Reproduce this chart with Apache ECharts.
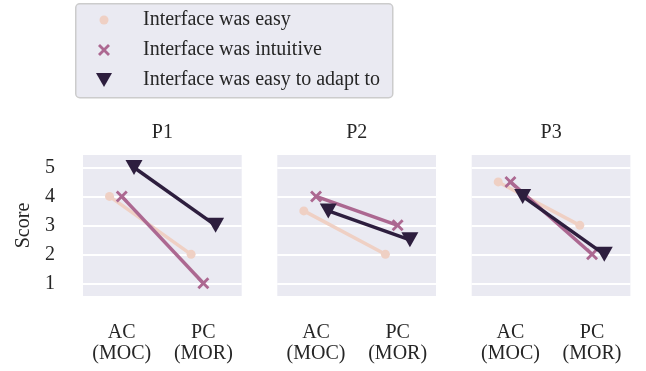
<!DOCTYPE html>
<html>
<head>
<meta charset="utf-8">
<script src="https://cdn.jsdelivr.net/npm/echarts@6/dist/echarts.min.js"></script>
<style>html,body{margin:0;padding:0;background:#fff}#c{width:646px;height:371px}</style>
</head>
<body>
<div id="c"></div>
<script>
// ---- data ----
var panels = ['P1', 'P2', 'P3'];
var categories = ['AC\n(MOC)', 'PC\n(MOR)'];
var seriesNames = ['Interface was easy', 'Interface was intuitive', 'Interface was easy to adapt to'];
var easyValues = [[4, 2], [3.5, 2], [4.5, 3]];
var intuitiveValues = [[4, 1], [4, 3], [4.5, 2]];
var adaptValues = [[5, 3], [3.5, 2.5], [4, 2]];
var yTicks = [1, 2, 3, 4, 5];

// ---- styling ----
var colors = ['#efd0c4', '#ac6891', '#2d1e3e'];
var FONT = '"Liberation Serif", "Times New Roman", serif';
var TXT = '#262626';
var DODGE = 0.15;
var crossPath = 'path://M0,2L2,0L6,4L10,0L12,2L8,6L12,10L10,12L6,8L2,12L0,10L4,6Z';
var triPath = 'path://M0,0L17,0L8.5,15Z';
var symbols = ['circle', crossPath, triPath];
var symbolSizes = [9, 12, [17, 15]];
var allValues = [easyValues, intuitiveValues, adaptValues];

var gridLefts = [83, 277.3, 471.7];
var gridW = 158.7;
var gridTop = 155, gridH = 141;

var grids = [], xAxes = [], yAxes = [], titles = [], series = [];
panels.forEach(function (p, i) {
  grids.push({left: gridLefts[i], top: gridTop, width: gridW, height: gridH,
    show: true, backgroundColor: '#eaeaf2', borderWidth: 0, containLabel: false});
  xAxes.push({type: 'value', gridIndex: i, min: -0.475, max: 1.47,
    axisLine: {show: false}, axisTick: {show: false}, splitLine: {show: false},
    axisLabel: {customValues: [0, 1], margin: 26, fontFamily: FONT, fontSize: 20, lineHeight: 21, color: TXT,
      formatter: function (v) { return categories[Math.round(v)]; }}});
  yAxes.push({type: 'value', gridIndex: i, min: 0.56, max: 5.43,
    axisLine: {show: false}, axisTick: {show: false, customValues: yTicks},
    splitLine: {show: true, lineStyle: {color: '#ffffff', width: 2}},
    axisLabel: {show: i === 0, customValues: yTicks, margin: 28, fontFamily: FONT, fontSize: 20, color: TXT},
    name: i === 0 ? 'Score' : '', nameLocation: 'middle', nameGap: 49, nameRotate: 90,
    nameTextStyle: {fontFamily: FONT, fontSize: 20, color: TXT}});
  titles.push({text: p, left: gridLefts[i] + gridW / 2 - 10.5, top: 123, padding: 0,
    textStyle: {fontFamily: FONT, fontSize: 20, fontWeight: 'normal', color: TXT}});
  allValues.forEach(function (vals, h) {
    series.push({
      type: 'line', name: seriesNames[h], xAxisIndex: i, yAxisIndex: i,
      data: vals[i].map(function (v, c) { return [c + (h - 1) * DODGE, v]; }),
      symbol: symbols[h], symbolSize: symbolSizes[h], showSymbol: true,
      lineStyle: {color: colors[h], width: 3.5},
      itemStyle: {color: colors[h], opacity: 1},
      z: 2 + h, animation: false, silent: true
    });
  });
});

var legendSizes = [[9, 9], [12, 12], [16, 15]];
var legendTops = [9, 39, 69];
var legends = seriesNames.map(function (n, h) {
  var w = legendSizes[h][0];
  return {data: [{name: n, icon: symbols[h]}], left: 104 - w / 2, top: legendTops[h], padding: 0,
    itemWidth: w, itemHeight: legendSizes[h][1], selectedMode: false,
    textStyle: {fontFamily: FONT, fontSize: 20, lineHeight: 22, color: TXT,
      padding: [0, 0, 0, 143 - (104 + w / 2 + 5)]}, z: 10};
});

var chart = echarts.init(document.getElementById('c'), null, {renderer: 'canvas'});
chart.setOption({
  animation: false,
  color: colors,
  title: titles,
  legend: legends,
  grid: grids,
  xAxis: xAxes,
  yAxis: yAxes,
  series: series,
  graphic: [{type: 'rect', left: 75, top: 3, z: 1,
    shape: {width: 317, height: 94, r: 4},
    style: {fill: '#eaeaf2', stroke: '#cccccc', lineWidth: 1.5}}]
});
</script>
</body>
</html>
